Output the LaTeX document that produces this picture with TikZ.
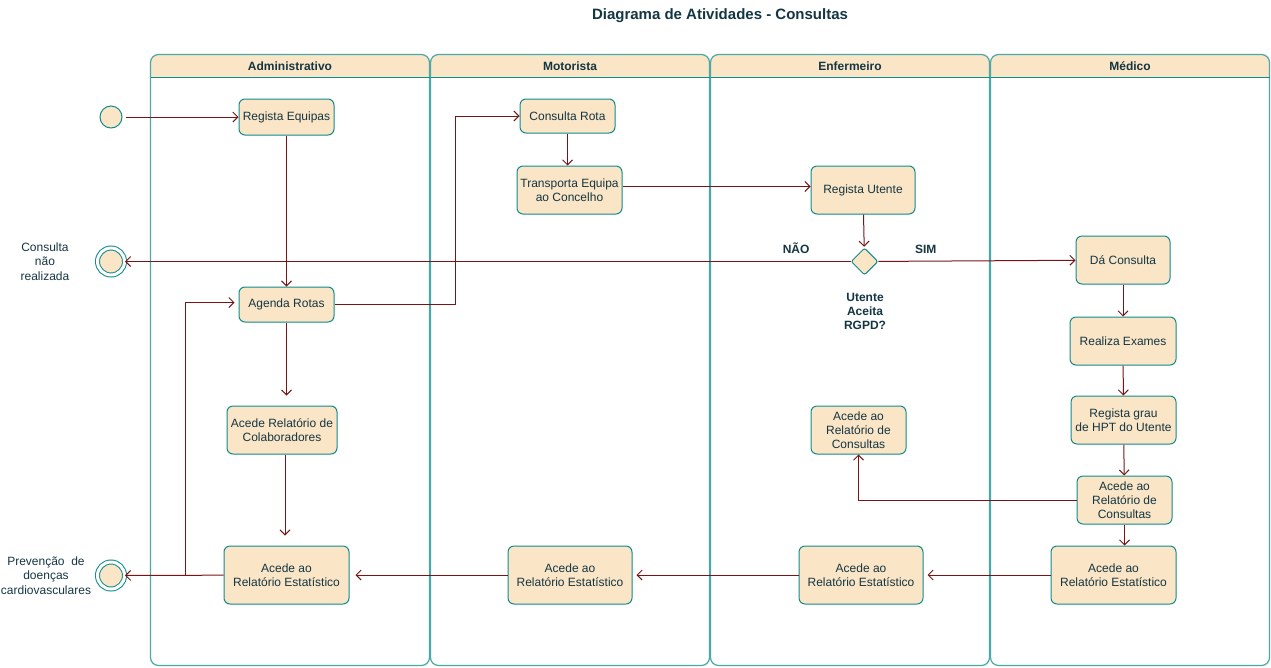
\documentclass[tikz,border=0pt]{standalone}
\usepackage{fontspec}
\setmainfont{Liberation Sans}
\usetikzlibrary{arrows.meta,shapes.geometric}
\definecolor{sandfill}{HTML}{FAE5C7}
\definecolor{tealline}{HTML}{0F8B8D}
\definecolor{inktext}{HTML}{143642}
\definecolor{flowred}{HTML}{7A1414}

\tikzset{
  act/.style={draw=tealline, fill=sandfill, rounded corners=6pt, line width=1pt,
    text=inktext, font=\fontsize{12}{14}\selectfont, align=center, inner sep=0pt},
  flow/.style={draw=flowred, line width=1pt, -{Straight Barb[length=5pt,width=10pt]}},
  lanebox/.style={draw=tealline!75, line width=1.2pt, rounded corners=8pt},
  lanehead/.style={fill=sandfill, rounded corners=8pt},
  lanetitle/.style={text=inktext, font=\bfseries\fontsize{12}{14}\selectfont},
  plain/.style={text=inktext, font=\fontsize{12}{14.5}\selectfont, align=center},
  boldlbl/.style={text=inktext, font=\bfseries\fontsize{12}{14}\selectfont, align=center},
  startdot/.style={circle, draw=tealline, fill=sandfill, line width=1pt, minimum size=22pt, inner sep=0pt},
  enddot/.style={circle, draw=tealline, fill=sandfill, line width=1pt, double=white,
    double distance=3pt, minimum size=27pt, inner sep=0pt},
  decision/.style={diamond, draw=tealline, fill=sandfill, line width=1pt, rounded corners=2pt,
    minimum width=27pt, minimum height=27pt, inner sep=0pt}
}

\begin{document}
\begin{tikzpicture}[x=1pt, y=-1pt]
\useasboundingbox (0,0) rectangle (1271,667);

% title
\node[text=inktext, font=\bfseries\fontsize{15}{17}\selectfont] (title) at (720,16) {Diagrama de Atividades - Consultas};

% swimlanes
\foreach \x/\nm/\lbl in {150/adm/Administrativo, 430/mot/Motorista, 710/enf/Enfermeiro, 990/med/Médico}{
  \begin{scope}
    \clip (\x,54) rectangle (\x+280,77.5);
    \fill[lanehead] (\x+0.5,54.5) rectangle (\x+279.5,100);
  \end{scope}
  \draw[lanebox] (\x+0.5,54.5) rectangle (\x+279.5,665.5);
  \draw[tealline, line width=1pt] (\x+0.5,77.5) -- (\x+279.5,77.5);
  \node[lanetitle] (lane-\nm) at (\x+140,66) {\lbl};
}

% start and end points
\node[startdot] (start) at (111,117) {};
\node[enddot] (end1) at (111,261.5) {};
\node[enddot] (end2) at (111,575.5) {};
\node[plain] (end1lbl) at (45,261.5) {Consulta\\não\\realizada};
\node[plain] (end2lbl) at (46,575.5) {Prevenção\ \ de\\doenças\\cardiovasculares};

% Administrativo
\node[act, minimum width=95pt, minimum height=36pt] (regeq) at (286.5,117) {Regista Equipas};
\node[act, minimum width=95pt, minimum height=35pt] (agenda) at (286.5,304.5) {Agenda Rotas};
\node[act, minimum width=110pt, minimum height=48pt] (colab) at (282,430) {Acede Relatório de\\Colaboradores};
\node[act, minimum width=125pt, minimum height=58pt] (estadm) at (286.5,575) {Acede ao\\Relatório Estatístico};

% Motorista
\node[act, minimum width=95pt, minimum height=34pt] (consrota) at (567.5,116) {Consulta Rota};
\node[act, minimum width=105pt, minimum height=48pt] (transp) at (569.5,190) {Transporta Equipa\\ao Concelho};
\node[act, minimum width=124pt, minimum height=58pt] (estmot) at (570,575) {Acede ao\\Relatório Estatístico};

% Enfermeiro
\node[act, minimum width=104pt, minimum height=48pt] (regut) at (863,190) {Regista Utente};
\node[decision] (dec) at (864.5,261.5) {};
\node[boldlbl] (declbl) at (865,311) {Utente\\Aceita\\RGPD?};
\node[act, minimum width=95pt, minimum height=48pt] (consenf) at (858.5,430) {Acede ao\\Relatório de\\Consultas};
\node[act, minimum width=124pt, minimum height=58pt] (estenf) at (861,575) {Acede ao\\Relatório Estatístico};

% Médico
\node[act, minimum width=94pt, minimum height=48pt] (dacons) at (1123,260) {Dá Consulta};
\node[act, minimum width=106pt, minimum height=48pt] (realiza) at (1123,341) {Realiza Exames};
\node[act, minimum width=105pt, minimum height=48pt] (reghpt) at (1123.5,420) {Regista grau\\de HPT do Utente};
\node[act, minimum width=95pt, minimum height=48pt] (consmed) at (1124.5,500) {Acede ao\\Relatório de\\Consultas};
\node[act, minimum width=125pt, minimum height=58pt] (estmed) at (1113.5,575) {Acede ao\\Relatório Estatístico};

% flows
\coordinate (bendA) at (455,304.5);
\coordinate (loopB) at (185.5,575);

\draw[flow, shorten <=3pt] (start) -- (regeq);
\draw[flow] (regeq) -- (agenda);
\draw[flow] (agenda.east) -- (bendA) |- (consrota.west);
\draw[flow, shorten >=10pt] (agenda.south) -- (agenda.south |- colab.north);
\draw[flow, shorten >=10pt] ([xshift=3pt]colab.south) -- ([xshift=-1.5pt]estadm.north);
\draw[flow] (estadm) -- (end2);
\draw[flow, shorten >=4pt] (loopB) |- ([yshift=2pt]agenda.west);

\draw[flow] (consrota.south) -- (consrota.south |- transp.north);
\draw[flow] ([yshift=3.5pt]transp.east) -- ([yshift=3.5pt]regut.west);

\draw[flow, shorten >=1pt] (regut) -- (dec);
\draw[flow] (dec) -- node[boldlbl, pos=0.075, above=4pt] (nao) {NÃO} (end1);
\draw[flow] (dec) -- node[boldlbl, pos=0.24, above=4pt] (sim) {SIM} (dacons);

\draw[flow] (dacons) -- (realiza);
\draw[flow] (realiza) -- (reghpt);
\draw[flow] (reghpt) -- (consmed);
\draw[flow] (consmed.south) -- (consmed.south |- estmed.north);
\draw[flow] (consmed.west) -| (consenf.south);

\draw[flow, shorten >=4pt] (estmed) -- (estenf);
\draw[flow, shorten >=4pt] (estenf) -- (estmot);
\draw[flow, shorten >=6pt] (estmot) -- (estadm);
\end{tikzpicture}
\end{document}
